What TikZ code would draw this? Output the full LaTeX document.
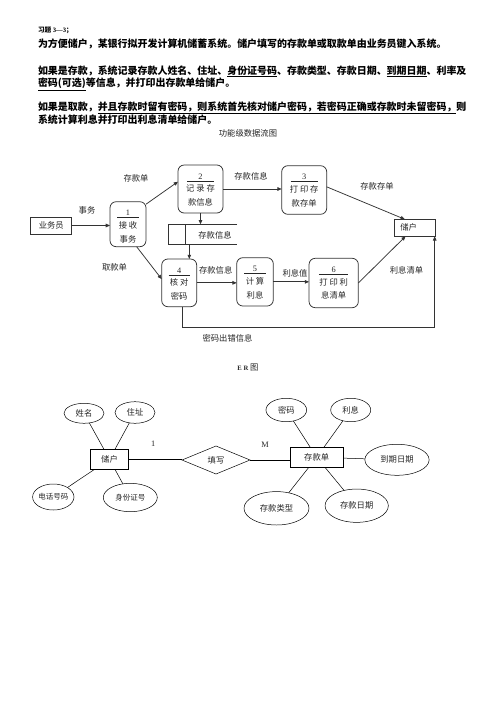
\documentclass[tikz,border=0pt]{standalone}
\usepackage{fontspec}
\setmainfont{Noto Sans CJK SC}
\newfontfamily\lat{Liberation Serif}
\usetikzlibrary{arrows.meta,shapes.geometric,calc}
\def\pxu{0.42328mm}
\newcommand\zw[1]{\makebox[0pt]{#1}}
\newcommand\procbox[8]{%
  \node[procnode, minimum width=#4*\pxu, minimum height=#5*\pxu, anchor=north] (#1) at (#2,#3) {};
  \node (#1-n) at (#2,#3+11.3) {\lat #6};
  \draw[line width=0.8pt, black!85] (#2-#4*0.3,#3+16) -- (#2+#4*0.3,#3+16);
  \node (#1-a) at (#2,#3+23.8) {#7};
  \node (#1-b) at (#2,#3+37.3) {#8};
}
\tikzset{
  every node/.style={inner sep=0pt, outer sep=0pt, font=\fontsize{10}{12}\selectfont, text=black!85},
  head/.style={anchor=base west, font=\fontsize{12}{14}\selectfont\bfseries, text=black},
  procnode/.style={draw=black!80, line width=0.9pt, rounded corners=2.6mm},
  dfd/.style={draw=black!80, line width=0.9pt},
  arr/.style={dfd, -{Triangle[length=1.8mm,width=1.5mm]}},
  entity/.style={draw=black, line width=0.7pt, rectangle},
  attr/.style={draw=black, line width=0.6pt, ellipse},
  relship/.style={draw=black, line width=0.6pt, diamond},
  erl/.style={draw=black, line width=0.6pt},
}
\begin{document}
\begin{tikzpicture}[x=0.42328mm, y=-0.42328mm]
\fill[white] (0,0) rectangle (496,702);
\useasboundingbox (0,0) rectangle (496,702);

% ---- heading text ----
\node[head, font=\fontsize{8}{10}\selectfont\bfseries] (h0) at (38,32.5) {习题 {\lat 3—3}；};
\node[head] (h1) at (38,47.3) {为方便储户，某银行拟开发计算机储蓄系统。储户填写的存款单或取款单由业务员键入系统。};
\node[head] (h2) at (38,74.3) {如果是存款，系统记录存款人姓名、住址、\underline{身份证号码}、存款类型、存款日期、\underline{到期日期}、利率及};
\node[head] (h3) at (38,86.8) {\underline{密码(可选)}等信息，并打印出存款单给储户。};
\node[head] (h4) at (38,110.8) {如果是取款，\underline{并且存款时留有密码，则系统首先核对储户密码，若密码正确或存款时未留密码，}则};
\node[head] (h5) at (38,123.8) {系统计算利息并打印出利息清单给储户。};

% ---- data flow diagram ----
\node (dfdt) at (248,133) {功能级数据流图};

\node[dfd, minimum width=41*\pxu, minimum height=17*\pxu] (yw) at (51.3,225.5) {业务员};
\node[dfd, minimum width=41.4*\pxu, minimum height=17*\pxu, text width=29.4*\pxu, align=left] (cu) at (415,227.8) {储户};

\procbox{p1}{128}{201.7}{36}{45}{1}{接 收}{事务}
\procbox{p2}{200.5}{165}{45}{48}{2}{记 录 存}{款信息}
\procbox{p3}{304.2}{165.7}{45}{48.6}{3}{打 印 存}{款存单}
\procbox{p4}{179.2}{259}{35}{47.7}{4}{核 对}{密码}
\procbox{p5}{255}{257.7}{36.6}{48.3}{5}{计 算}{利息}
\procbox{p6}{333.7}{258.3}{49.3}{49.4}{6}{打 印 利}{息清单}

% data store
\node[minimum width=68.7*\pxu, minimum height=20*\pxu] (ds) at (202.7,234.3) {};
\draw[dfd] (ds.north east) -- (ds.north west) -- (ds.south west) -- (ds.south east);
\draw[dfd] ($(ds.north west)+(16.7,0)$) -- ($(ds.south west)+(16.7,0)$);
\node (ds-t) at (215,235) {存款信息};

% flows
\draw[arr] (yw.east) -- (yw.east -| p1.west);
\draw[arr] (p1.48) -- (p2.162);
\draw[arr] (p1.-69) -- (p4.168);
\draw[arr] (p2.south) -- (p2.south |- ds.north);
\coordinate (dsx) at ($(ds.south)+(-13.4,0)$);
\draw[arr] (dsx) -- (dsx |- p4.north);
\draw[arr] (p2.east) -- (p2.east -| p3.west);
\draw[arr] (p3.8) -- (cu.140);
\draw[arr] (p4.east) -- (p4.east -| p5.west);
\draw[arr] (p5.east) -- (p5.east -| p6.west);
\draw[arr] (p6.east) -- (cu.-138);
\coordinate (lp) at ($(p4.south)+(3,0)$);
\coordinate (ce) at ($(cu.south east)+(-1,0)$);
\draw[arr] (lp) -- ++(0,21) -| (ce);

% flow labels
\node (l1) at (87,210) {事务};
\node (l2) at (136,178.3) {存款单};
\node (l3) at (114.5,267.7) {取款单};
\node (l4) at (251,176.7) {存款信息};
\node (l5) at (377,186.7) {存款存单};
\node (l6) at (215.7,270.7) {存款信息};
\node (l7) at (295,273.3) {利息值};
\node (l8) at (406.5,270.7) {利息清单};
\node (l9) at (227.5,338.3) {密码出错信息};

% ---- ER diagram ----
\node (ert) at (248,368) {{\lat\bfseries\fontsize{8}{10}\selectfont E R} 图};

\node[entity, minimum width=37.6*\pxu, minimum height=20*\pxu] (e1) at (109.5,459.3) {储户};
\node[entity, minimum width=53.3*\pxu, minimum height=20*\pxu] (e2) at (316.7,457.3) {存款单};
\node[relship, minimum width=68*\pxu, minimum height=28*\pxu] (r1) at (216,460) {\zw{填写}};

\node[attr, minimum width=40*\pxu, minimum height=20*\pxu] (a1) at (84,413.3) {\zw{姓名}};
\node[attr, minimum width=40*\pxu, minimum height=21.6*\pxu] (a2) at (135,412.5) {\zw{住址}};
\node[attr, minimum width=41.4*\pxu, minimum height=26*\pxu] (a3) at (53.3,497) {\zw{\fontsize{9}{11}\selectfont 电话号码}};
\node[attr, minimum width=54*\pxu, minimum height=28.4*\pxu] (a4) at (130.3,497.5) {\zw{\fontsize{9}{11}\selectfont 身份证号}};

\node[attr, minimum width=40.7*\pxu, minimum height=23.4*\pxu] (b1) at (286.3,410) {\zw{密码}};
\node[attr, minimum width=40*\pxu, minimum height=23.4*\pxu] (b2) at (350.7,410) {\zw{利息}};
\node[attr, minimum width=64.3*\pxu, minimum height=31*\pxu] (b3) at (397,459.8) {\zw{到期日期}};
\node[attr, minimum width=65*\pxu, minimum height=33.4*\pxu] (b4) at (276.5,508.3) {\zw{存款类型}};
\node[attr, minimum width=63.3*\pxu, minimum height=33.3*\pxu] (b5) at (356.7,505.7) {\zw{存款日期}};

\draw[erl] (e1) -- (a1);
\draw[erl] (e1) -- (a2);
\draw[erl] (e1) -- (a3);
\draw[erl] (e1) -- (a4);
\draw[erl] (e1.east) -- (e1.east -| r1.west);
\draw[erl] (r1.east) -- (r1.east -| e2.west);
\draw[erl] (e2) -- (b1);
\draw[erl] (e2) -- (b2);
\draw[erl] (e2) -- (b3);
\draw[erl] (e2) -- (b4);
\draw[erl] (e2) -- (b5);

\node (c1) at (153.3,443.3) {\lat 1};
\node (cm) at (265,445) {\lat M};
\end{tikzpicture}
\end{document}
